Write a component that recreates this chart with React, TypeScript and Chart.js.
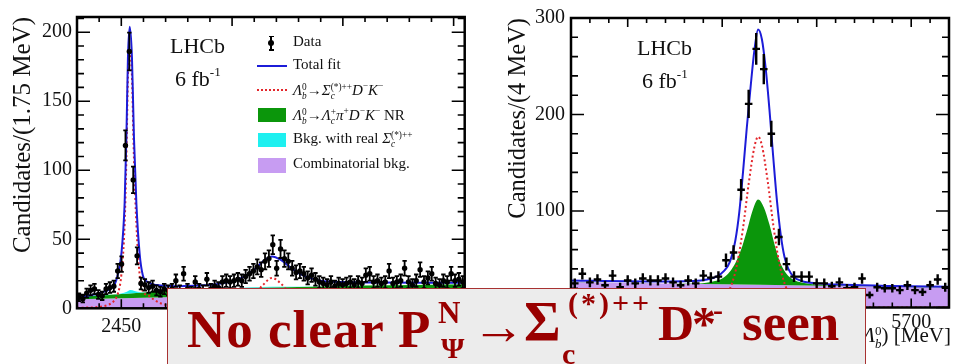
import React, { useEffect, useRef } from "react";
import { Chart, registerables } from "chart.js";

Chart.register(...registerables);

const SERIF = '"Liberation Serif", "Times New Roman", Times, serif';

// Fit component colours
const TOTAL_BLUE = "#1c1cd8";
const SIGNAL_RED = "#e3262b";
const NR_GREEN = "#0b960b";
const REAL_SIGMA_CYAN = "#1ef0f0";
const COMB_PURPLE = "#c79cf2";
const BANNER_RED = "#990000";

// ---------- Left panel: Λc+π+ mass, 1.75 MeV bins ----------
const sigmaMassMin = 2430;
const sigmaMassMax = 2605;
const sigmaBinWidth = 1.75;
const sigmaCountMax = 211;
const sigmaMassTicks = [2450, 2500, 2550, 2600];
const sigmaCountTicks = [0, 50, 100, 150, 200];
const sigmaCounts = [
  8, 7, 11, 13, 14, 10, 9, 14, 15, 16,
  27, 32, 118, 186, 93, 38, 18, 17, 15, 16,
  13, 12, 14, 13, 14, 20, 13, 25, 14, 12,
  19, 14, 13, 21, 14, 16, 15, 19, 20, 19,
  20, 21, 20, 23, 25, 27, 30, 28, 34, 36,
  46, 29, 43, 36, 34, 29, 26, 27, 25, 22,
  24, 21, 19, 18, 17, 19, 16, 18, 17, 18,
  19, 17, 19, 18, 24, 25, 19, 20, 18, 19,
  27, 18, 19, 20, 29, 19, 17, 20, 28, 19,
  22, 25, 18, 17, 20, 19, 25, 20, 21, 19,
];
const sigmaTotalFit: [number, number][] = [
  [2430, 8], [2436, 9.5], [2441, 11.5], [2445, 14], [2447.2, 18], [2448.5, 25],
  [2450, 39], [2451.5, 76], [2452.3, 124], [2453, 182], [2453.8, 204],
  [2454.8, 182], [2455.7, 124], [2456.8, 76], [2458.3, 39], [2459.7, 24],
  [2462, 19], [2466, 16.8], [2475, 16], [2485, 16.5], [2493, 17.5],
  [2500, 19.5], [2505, 22.5], [2510, 28], [2514, 34], [2518, 37.6],
  [2522, 35], [2526, 30], [2530, 25.5], [2535, 22], [2540, 20],
  [2550, 19], [2565, 18.7], [2585, 18.5], [2605, 18.5],
];
const sigmaSignalFit: [number, number][] = [
  [2430, 0.4], [2440, 1], [2444, 2.5], [2446.5, 5], [2448.5, 11], [2450, 24],
  [2451.5, 61], [2452.3, 109], [2453, 168], [2453.8, 188], [2454.8, 168],
  [2455.7, 109], [2456.8, 61], [2458.3, 24], [2459.7, 12.5], [2462, 9.5],
  [2465, 6], [2468, 3.5], [2472, 2], [2480, 1], [2490, 1.2], [2500, 3],
  [2506, 6], [2510, 10], [2514, 17], [2518, 22], [2522, 18], [2526, 11],
  [2530, 6.5], [2536, 3.5], [2545, 1.8], [2560, 0.8], [2605, 0.3],
];
// Upper edges of the stacked background bands
const sigmaCombTop: [number, number][] = [
  [2430, 6.5], [2470, 8], [2520, 9.5], [2605, 12],
];
const sigmaNrTop: [number, number][] = [
  [2430, 8.3], [2450, 10.3], [2470, 12.5], [2500, 14.5], [2530, 15.5],
  [2560, 16.5], [2605, 17.5],
];
const sigmaRealTop: [number, number][] = [
  [2430, 8.3], [2446, 9.9], [2450, 10.8], [2452.5, 12], [2454, 13.2],
  [2456, 12.5], [2459, 11.6], [2464, 11.8], [2470, 12.6], [2500, 14.6],
  [2518, 15.6], [2530, 15.6], [2560, 16.5], [2605, 17.5],
];

// ---------- Right panel: Λb0 mass, 4 MeV bins ----------
const lambdaMassMin = 5520;
const lambdaMassMax = 5720;
const lambdaBinWidth = 4;
const lambdaCountMax = 300;
const lambdaMassTicks = [5550, 5600, 5650, 5700];
const lambdaCountTicks = [0, 100, 200, 300];
const lambdaCounts = [
  25, 35, 26, 29, 23, 33, 21, 28, 25, 30,
  28, 28, 30, 26, 23, 28, 25, 33, 31, 32,
  49, 57, 122, 211, 268, 247, 180, 73, 45, 32,
  32, 32, 25, 25, 22, 26, 20, 21, 30, 13,
  21, 20, 20, 18, 23, 18, 16, 23, 29, 21,
];
const lambdaTotalFit: [number, number][] = [
  [5520, 28], [5560, 27], [5585, 27.5], [5592, 29], [5597, 32], [5601, 38],
  [5604, 47], [5607, 70], [5609, 98], [5611, 140], [5613, 186], [5615, 228],
  [5617, 266], [5619, 288], [5621, 278], [5623, 248], [5625, 205],
  [5627, 156], [5629, 110], [5631, 75], [5633, 52], [5635, 40], [5638, 31.5],
  [5642, 27.5], [5650, 25], [5665, 23.5], [5690, 22.3], [5720, 21.5],
];
const lambdaSignalFit: [number, number][] = [
  [5520, 0.05], [5580, 0.3], [5592, 2], [5598, 6], [5602, 13], [5605, 24],
  [5608, 46], [5611, 82], [5614, 128], [5617, 166], [5619, 177], [5621, 168],
  [5624, 132], [5627, 86], [5630, 48], [5633, 25], [5636, 13], [5640, 6],
  [5646, 2], [5660, 0.3], [5720, 0.05],
];
const lambdaCombTop: [number, number][] = [
  [5520, 26.5], [5620, 23.5], [5720, 20.5],
];
const lambdaNrTop: [number, number][] = [
  [5520, 26.6], [5570, 25], [5588, 25], [5595, 27], [5600, 30], [5604, 37],
  [5607, 46], [5610, 60], [5613, 79], [5616, 100], [5619, 112], [5622, 104],
  [5625, 86], [5628, 63], [5631, 45], [5634, 35], [5638, 28.5], [5645, 25],
  [5660, 23], [5720, 20.6],
];

type Pt = [number, number];

const toXY = (pts: Pt[]) => pts.map(([x, y]) => ({ x, y }));
const binned = (start: number, width: number, counts: number[]) =>
  counts.map((c, i) => ({ x: start + width * (i + 0.5), y: c }));

// ROOT-like frame with inward major/minor ticks on all four sides
const framePlugin = {
  id: "frame",
  afterDatasetsDraw(chart: any, _args: any, o: any) {
    const { ctx, chartArea: a } = chart;
    const xs = chart.scales.x;
    const ys = chart.scales.y;
    const isMajor = (v: number, m: number) => Math.abs(v / m - Math.round(v / m)) < 1e-6;
    ctx.save();
    ctx.strokeStyle = "#000";
    ctx.lineWidth = 1.6;
    ctx.beginPath();
    const nx0 = Math.ceil(xs.min / o.xMinor - 1e-9);
    const nx1 = Math.floor(xs.max / o.xMinor + 1e-9);
    for (let n = nx0; n <= nx1; n++) {
      const v = n * o.xMinor;
      const px = xs.getPixelForValue(v);
      const len = isMajor(v, o.xMajor) ? o.xMajorLen : o.xMinorLen;
      ctx.moveTo(px, a.bottom);
      ctx.lineTo(px, a.bottom - len);
      ctx.moveTo(px, a.top);
      ctx.lineTo(px, a.top + len);
    }
    const ny0 = Math.ceil(ys.min / o.yMinor - 1e-9);
    const ny1 = Math.floor(ys.max / o.yMinor + 1e-9);
    for (let n = ny0; n <= ny1; n++) {
      const v = n * o.yMinor;
      const py = ys.getPixelForValue(v);
      const len = isMajor(v, o.yMajor) ? o.yMajorLen : o.yMinorLen;
      ctx.moveTo(a.left, py);
      ctx.lineTo(a.left + len, py);
      ctx.moveTo(a.right, py);
      ctx.lineTo(a.right - len, py);
    }
    ctx.stroke();
    ctx.lineWidth = 2.5;
    ctx.strokeRect(a.left, a.top, a.right - a.left, a.bottom - a.top);
    ctx.restore();
  },
};

// Poisson error bars on the binned data points
const errorBarPlugin = {
  id: "errorBars",
  afterDatasetsDraw(chart: any, _args: any, o: any) {
    const { ctx, chartArea: a } = chart;
    const xs = chart.scales.x;
    const ys = chart.scales.y;
    const ds = chart.data.datasets[o.datasetIndex];
    ctx.save();
    ctx.beginPath();
    ctx.rect(a.left, a.top, a.right - a.left, a.bottom - a.top);
    ctx.clip();
    ctx.strokeStyle = "#000";
    ctx.lineWidth = o.lineWidth;
    ctx.beginPath();
    for (const p of ds.data) {
      const err = Math.sqrt(p.y);
      const px = xs.getPixelForValue(p.x);
      const py = ys.getPixelForValue(p.y);
      const lo = ys.getPixelForValue(p.y - err);
      const hi = ys.getPixelForValue(p.y + err);
      ctx.moveTo(px, lo);
      ctx.lineTo(px, hi);
      if (o.cap) {
        ctx.moveTo(px - o.cap, lo);
        ctx.lineTo(px + o.cap, lo);
        ctx.moveTo(px - o.cap, hi);
        ctx.lineTo(px + o.cap, hi);
      }
      if (o.binWidth) {
        ctx.moveTo(xs.getPixelForValue(p.x - o.binWidth / 2), py);
        ctx.lineTo(xs.getPixelForValue(p.x + o.binWidth / 2), py);
      }
    }
    ctx.stroke();
    ctx.restore();
  },
};

type PanelSpec = {
  counts: number[];
  start: number;
  binWidth: number;
  xMin: number;
  xMax: number;
  yMax: number;
  xTicks: number[];
  yTicks: number[];
  xMinor: number;
  xMajor: number;
  yMinor: number;
  yMajor: number;
  yTitle: string;
  yTitleSize: number;
  total: Pt[];
  signal: Pt[];
  comb: Pt[];
  nr: Pt[];
  real?: Pt[];
  yAxisWidth: number;
  xAxisHeight: number;
  padTop: number;
  padRight: number;
  xTickPad: number;
  yTickPad: number;
  titlePad: number;
  pointRadius: number;
  errLineWidth: number;
  errCap: number;
  errBin: number;
};

function makeConfig(s: PanelSpec): any {
  const curve = (pts: Pt[]) => ({
    type: "line",
    data: toXY(pts),
    pointRadius: 0,
    cubicInterpolationMode: "monotone",
  });
  const bands: any[] = [
    { ...curve(s.comb), fill: "origin", backgroundColor: COMB_PURPLE, borderColor: "rgba(0,0,0,0)", borderWidth: 1, order: 6 },
    { ...curve(s.nr), fill: "-1", backgroundColor: NR_GREEN, borderColor: "rgba(0,0,0,0)", borderWidth: 1, order: 5 },
  ];
  if (s.real) {
    bands.push({ ...curve(s.real), fill: "-1", backgroundColor: REAL_SIGMA_CYAN, borderColor: "rgba(0,0,0,0)", borderWidth: 1, order: 4 });
  }
  const datasets = [
    ...bands,
    { ...curve(s.signal), fill: false, borderColor: SIGNAL_RED, borderWidth: 2, borderDash: [2, 2.6], order: 3 },
    { ...curve(s.total), fill: false, borderColor: TOTAL_BLUE, borderWidth: 2, order: 2 },
    {
      type: "scatter",
      data: binned(s.start, s.binWidth, s.counts),
      pointRadius: s.pointRadius,
      pointBackgroundColor: "#000",
      pointBorderWidth: 0,
      order: 1,
    },
  ];
  const tickFont = { family: SERIF, size: 20 };
  return {
    type: "line",
    data: { datasets },
    options: {
      animation: false,
      responsive: false,
      events: [],
      layout: { padding: { top: s.padTop, right: s.padRight, left: 0, bottom: 0 } },
      plugins: {
        legend: { display: false },
        tooltip: { enabled: false },
        frame: {
          xMinor: s.xMinor, xMajor: s.xMajor, yMinor: s.yMinor, yMajor: s.yMajor,
          xMajorLen: 9, xMinorLen: 5, yMajorLen: 13, yMinorLen: 7,
        },
        errorBars: {
          datasetIndex: datasets.length - 1,
          lineWidth: s.errLineWidth,
          cap: s.errCap,
          binWidth: s.errBin,
        },
      },
      scales: {
        x: {
          type: "linear",
          min: s.xMin,
          max: s.xMax,
          grid: { display: false, drawTicks: false },
          border: { display: false },
          ticks: {
            font: tickFont,
            color: "#111",
            padding: s.xTickPad,
            autoSkip: false,
            maxRotation: 0,
            callback: (v: number) => String(v),
          },
          afterBuildTicks: (scale: any) => {
            scale.ticks = s.xTicks.map((v) => ({ value: v }));
          },
          afterFit: (scale: any) => {
            scale.height = s.xAxisHeight;
          },
        },
        y: {
          type: "linear",
          min: 0,
          max: s.yMax,
          grid: { display: false, drawTicks: false },
          border: { display: false },
          ticks: {
            font: tickFont,
            color: "#111",
            padding: s.yTickPad,
            callback: (v: number) => String(v),
          },
          afterBuildTicks: (scale: any) => {
            scale.ticks = s.yTicks.map((v) => ({ value: v }));
          },
          afterFit: (scale: any) => {
            scale.width = s.yAxisWidth;
          },
          title: {
            display: true,
            text: s.yTitle,
            align: "end",
            color: "#111",
            font: { family: SERIF, size: s.yTitleSize },
            padding: { top: s.titlePad, bottom: 0 },
          },
        },
      },
    },
    plugins: [errorBarPlugin, framePlugin],
  };
}

function Panel({ spec, left, width, height }: { spec: PanelSpec; left: number; width: number; height: number }) {
  const ref = useRef<HTMLCanvasElement>(null);
  useEffect(() => {
    const chart = new Chart(ref.current as HTMLCanvasElement, makeConfig(spec));
    return () => chart.destroy();
  }, []);
  return (
    <canvas
      ref={ref}
      width={width}
      height={height}
      style={{ position: "absolute", left, top: 0, width, height, display: "block" }}
    />
  );
}

// Superscript stacked over subscript (TLatex-style x^{a}_{b})
function SupSub({ sup, sub, size = 0.62, raise = 0.55, lh = 0.95 }: { sup: React.ReactNode; sub: React.ReactNode; size?: number; raise?: number; lh?: number }) {
  return (
    <span
      style={{
        display: "inline-flex",
        flexDirection: "column",
        alignItems: "flex-start",
        fontSize: `${size}em`,
        lineHeight: lh,
        verticalAlign: `${raise}em`,
      }}
    >
      <span>{sup}</span>
      <span>{sub}</span>
    </span>
  );
}

function Sup({ children, size = 0.62, raise = 0.6 }: { children: React.ReactNode; size?: number; raise?: number }) {
  return <span style={{ fontSize: `${size}em`, verticalAlign: `${raise}em` }}>{children}</span>;
}

// Text placed by its left edge and baseline
function Text({ x, y, size, children, bold = false, color = "#111", spacing = 0 }: { x: number; y: number; size: number; children: React.ReactNode; bold?: boolean; color?: string; spacing?: number }) {
  return (
    <div
      style={{
        position: "absolute",
        left: x,
        top: y - 0.8375 * size,
        fontFamily: SERIF,
        fontSize: size,
        lineHeight: 1,
        whiteSpace: "nowrap",
        color,
        fontWeight: bold ? 700 : 400,
        letterSpacing: spacing,
      }}
    >
      {children}
    </div>
  );
}

const Lb = () => (
  <>
    <i>Λ</i>
    <SupSub sup="0" sub={<i>b</i>} />
  </>
);

const sigmaSpec: PanelSpec = {
  counts: sigmaCounts,
  start: sigmaMassMin,
  binWidth: sigmaBinWidth,
  xMin: sigmaMassMin,
  xMax: sigmaMassMax,
  yMax: sigmaCountMax,
  xTicks: sigmaMassTicks,
  yTicks: sigmaCountTicks,
  xMinor: 10,
  xMajor: 50,
  yMinor: 10,
  yMajor: 50,
  yTitle: "Candidates/(1.75 MeV)",
  yTitleSize: 25,
  total: sigmaTotalFit,
  signal: sigmaSignalFit,
  comb: sigmaCombTop,
  nr: sigmaNrTop,
  real: sigmaRealTop,
  yAxisWidth: 77,
  xAxisHeight: 55.7,
  padTop: 10,
  padRight: 13,
  xTickPad: 6,
  yTickPad: 5,
  titlePad: 8,
  pointRadius: 2.7,
  errLineWidth: 1.8,
  errCap: 2.2,
  errBin: 0,
};

const lambdaSpec: PanelSpec = {
  counts: lambdaCounts,
  start: lambdaMassMin,
  binWidth: lambdaBinWidth,
  xMin: lambdaMassMin,
  xMax: lambdaMassMax,
  yMax: lambdaCountMax,
  xTicks: lambdaMassTicks,
  yTicks: lambdaCountTicks,
  xMinor: 10,
  xMajor: 50,
  yMinor: 20,
  yMajor: 100,
  yTitle: "Candidates/(4 MeV)",
  yTitleSize: 24.5,
  total: lambdaTotalFit,
  signal: lambdaSignalFit,
  comb: lambdaCombTop,
  nr: lambdaNrTop,
  yAxisWidth: 91,
  xAxisHeight: 56.5,
  padTop: 15,
  padRight: 2,
  xTickPad: 3,
  yTickPad: 6,
  titlePad: 24,
  pointRadius: 1.5,
  errLineWidth: 2.4,
  errCap: 0,
  errBin: lambdaBinWidth,
};

const box = (x: number, y: number, w: number, h: number, bg: string) => (
  <div style={{ position: "absolute", left: x, top: y, width: w, height: h, background: bg }} />
);

export default function App() {
  return (
    <div
      style={{
        position: "absolute",
        left: 0,
        top: 0,
        width: 953,
        height: 364,
        overflow: "hidden",
        background: "#fff",
      }}
    >
      <Panel spec={sigmaSpec} left={0} width={480} height={364} />
      <Panel spec={lambdaSpec} left={480} width={473} height={364} />

      {/* experiment labels */}
      <Text x={170} y={53} size={22}>LHCb</Text>
      <Text x={175} y={83} size={22}>6 fb<Sup size={0.6} raise={0.75}>-1</Sup></Text>
      <Text x={637} y={55} size={22}>LHCb</Text>
      <Text x={642} y={85} size={22}>6 fb<Sup size={0.6} raise={0.75}>-1</Sup></Text>

      {/* legend of the left panel */}
      <div style={{ position: "absolute", left: 270, top: 36, width: 1.8, height: 14, background: "#000" }} />
      <div style={{ position: "absolute", left: 268.5, top: 35.5, width: 5, height: 1.6, background: "#000" }} />
      <div style={{ position: "absolute", left: 268.5, top: 49, width: 5, height: 1.6, background: "#000" }} />
      <div style={{ position: "absolute", left: 268.2, top: 40.3, width: 5.4, height: 5.4, borderRadius: 3, background: "#000" }} />
      <Text x={293} y={47} size={15}>Data</Text>

      <div style={{ position: "absolute", left: 257, top: 64.5, width: 30, height: 2, background: TOTAL_BLUE }} />
      <Text x={293} y={70} size={15}>Total fit</Text>

      <div style={{ position: "absolute", left: 257, top: 89, width: 30, height: 0, borderTop: `2px dotted ${SIGNAL_RED}` }} />
      <Text x={293} y={95} size={15}>
        <Lb />→<i>Σ</i>
        <SupSub sup="(*)++" sub={<i>c</i>} />
        <i>D</i>
        <Sup>−</Sup>
        <i>K</i>
        <Sup>−</Sup>
      </Text>

      {box(258, 108, 28, 14, NR_GREEN)}
      <Text x={293} y={120} size={15}>
        <Lb />→<i>Λ</i>
        <SupSub sup="+" sub={<i>c</i>} />
        <i>π</i>
        <Sup>+</Sup>
        <i>D</i>
        <Sup>−</Sup>
        <i>K</i>
        <Sup>−</Sup> NR
      </Text>

      {box(258, 133, 28, 14, REAL_SIGMA_CYAN)}
      <Text x={293} y={144} size={15}>
        Bkg. with real <i>Σ</i>
        <SupSub sup="(*)++" sub={<i>c</i>} />
      </Text>

      {box(258, 158, 28, 15, COMB_PURPLE)}
      <Text x={293} y={169} size={15}>Combinatorial bkg.</Text>

      {/* x-axis title of the right panel */}
      <div
        style={{
          position: "absolute",
          right: 2,
          top: 343 - 0.8375 * 21,
          fontFamily: SERIF,
          fontSize: 21,
          lineHeight: 1,
          whiteSpace: "nowrap",
          color: "#111",
        }}
      >
        <i>m</i>(<Lb />) [MeV]
      </div>

      {/* summary banner */}
      <div
        style={{
          position: "absolute",
          left: 167,
          top: 288,
          width: 699,
          height: 100,
          background: "#ececec",
          border: "1.5px solid #a83232",
          boxSizing: "border-box",
        }}
      />
      <Text x={187} y={347} size={53} bold color={BANNER_RED} spacing={1}>No clear P</Text>
      <Text x={438} y={323} size={31} bold color={BANNER_RED}>N</Text>
      <Text x={441} y={358} size={30} bold color={BANNER_RED}>Ψ</Text>
      <Text x={472} y={344} size={53} bold color={BANNER_RED}>→</Text>
      <Text x={524} y={341} size={56} bold color={BANNER_RED}>Σ</Text>
      <Text x={568} y={313} size={30} bold color={BANNER_RED} spacing={3}>(*)++</Text>
      <Text x={562} y={364} size={30} bold color={BANNER_RED}>c</Text>
      <Text x={658} y={340} size={50} bold color={BANNER_RED}>D</Text>
      <Text x={692} y={340} size={48} bold color={BANNER_RED}>*</Text>
      <Text x={713} y={320} size={30} bold color={BANNER_RED}>-</Text>
      <Text x={742} y={340} size={53} bold color={BANNER_RED}>seen</Text>
    </div>
  );
}
